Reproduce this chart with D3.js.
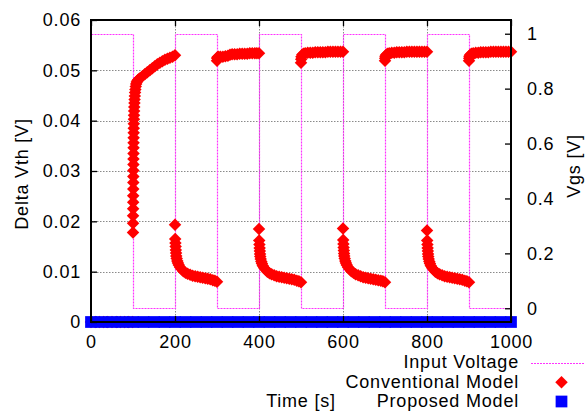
<!DOCTYPE html>
<html><head><meta charset="utf-8">
<script src="https://cdn.jsdelivr.net/npm/d3@7"></script>
<style>html,body{margin:0;padding:0;background:#fff;}svg{display:block;}</style>
</head><body>
<script>
// ---------- data ----------
const timeTicks = [0, 200, 400, 600, 800, 1000];
const timeTickLabels = ["0", "200", "400", "600", "800", "1000"];
const vthTicks = [0, 0.01, 0.02, 0.03, 0.04, 0.05, 0.06];
const vthTickLabels = ["0", "0.01", "0.02", "0.03", "0.04", "0.05", "0.06"];
const vgsTicks = [0, 0.2, 0.4, 0.6, 0.8, 1];
const vgsTickLabels = ["0", "0.2", "0.4", "0.6", "0.8", "1"];
const seriesNames = ["Input Voltage", "Conventional Model", "Proposed Model"];

// Input voltage (Vgs) square wave [time, Vgs]
const inputVoltage = [[0,1],[100,1],[100,0],[200,0],[200,1],[300,1],[300,0],[400,0],[400,1],[500,1],
  [500,0],[600,0],[600,1],[700,1],[700,0],[800,0],[800,1],[900,1],[900,0],[1000,0]];

// Conventional model [time, delta Vth]
const convIdle = [[0,0],[10,0],[20,0],[30,0],[40,0],[50,0],[60,0],[70,0],[80,0],[90,0],[99,0]];
const convStress1 = [[100,0.0178],[100.1,0.0196],[100.2,0.0211],[100.3,0.0225],[100.4,0.0238],[100.5,0.0251],
  [100.6,0.0264],[100.7,0.0277],[100.8,0.0289],[100.9,0.0301],[101,0.0313],[101.1,0.0324],[101.2,0.0335],
  [101.3,0.0346],[101.4,0.0356],[101.5,0.0366],[101.6,0.0376],[101.8,0.0385],[102,0.0394],[102.2,0.0403],
  [102.4,0.0411],[102.7,0.0419],[103,0.0427],[103.4,0.0435],[103.8,0.0442],[104.3,0.0449],[104.9,0.0456],
  [105.6,0.0462],[106.5,0.0468],[107.6,0.0473],[109,0.0477],[111,0.0480],[113,0.0482],[116,0.0484],
  [122,0.0488],[128,0.0492],[134,0.0496],[140,0.0500],[146,0.0504],[152,0.0508],[158,0.0512],[164,0.0515],
  [170,0.0518],[176,0.0521],[182,0.0523],[188,0.0525],[194,0.0527],[200,0.0530]];
const convRecov1 = [[200,0.0193],[200.5,0.0165],[201,0.0157],[201.5,0.0150],[202,0.0143],[202.5,0.0137],
  [203,0.0131],[204,0.0126],[205.5,0.0121],[207,0.0117],[209,0.0113],[212,0.0109],[216,0.0105],[220,0.0101],
  [225,0.0098],[230,0.0096],[236,0.0094],[242,0.0092],[248,0.0091],[254,0.0090],[260,0.0089],[266,0.0088],
  [272,0.0087],[278,0.0086],[284,0.0085],[290,0.0083],[295,0.0082],[300,0.0080]];
const convStress2 = [[300,0.0519],[300.5,0.0524],[301,0.0526],[303,0.0527],[308,0.0527],[314,0.0527],
  [320,0.0528],[326,0.0529],[331,0.0531],[336,0.0532],[342,0.0532],[348,0.0532],[354,0.0533],[360,0.0533],
  [366,0.0533],[372,0.0533],[378,0.0534],[384,0.0534],[390,0.0534],[395,0.0534],[400,0.0534]];
const convRecov2 = [[400,0.0185],[400.5,0.0162],[401,0.0154],[401.5,0.0147],[402,0.0141],[402.5,0.0135],
  [403,0.0130],[404,0.0125],[405.5,0.0120],[407,0.0116],[409,0.0112],[412,0.0108],[416,0.0104],[420,0.0100],
  [425,0.0097],[430,0.0095],[436,0.0093],[442,0.0091],[448,0.0090],[454,0.0089],[460,0.0088],[466,0.0087],
  [472,0.0086],[478,0.0085],[484,0.0084],[490,0.0082],[495,0.0081],[500,0.0079]];
const convStress3 = [[500,0.0515],[500.5,0.0522],[501,0.0527],[503,0.0531],[506,0.0533],[510,0.0534],
  [516,0.0535],[522,0.0535],[528,0.0535],[534,0.0536],[540,0.0536],[546,0.0536],[552,0.0536],[558,0.0536],
  [564,0.0537],[570,0.0537],[576,0.0537],[582,0.0537],[588,0.0537],[594,0.0537],[600,0.0537]];
const convRecov3 = [[600,0.0186],[600.5,0.0163],[601,0.0155],[601.5,0.0148],[602,0.0142],[602.5,0.0136],
  [603,0.0131],[604,0.0126],[605.5,0.0121],[607,0.0117],[609,0.0113],[612,0.0109],[616,0.0105],[620,0.0101],
  [625,0.0098],[630,0.0095],[636,0.0093],[642,0.0091],[648,0.0089],[654,0.0088],[660,0.0087],[666,0.0086],
  [672,0.0085],[678,0.0084],[684,0.0083],[690,0.0082],[695,0.0081],[700,0.0079]];
const convStress4 = [[700,0.0519],[700.5,0.0524],[701,0.0528],[703,0.0531],[706,0.0533],[710,0.0534],
  [716,0.0535],[722,0.0535],[728,0.0536],[734,0.0536],[740,0.0536],[746,0.0536],[752,0.0537],[758,0.0537],
  [764,0.0537],[770,0.0537],[776,0.0537],[782,0.0537],[788,0.0537],[794,0.0537],[800,0.0537]];
const convRecov4 = [[800,0.0182],[800.5,0.0162],[801,0.0154],[801.5,0.0147],[802,0.0141],[802.5,0.0135],
  [803,0.0130],[804,0.0125],[805.5,0.0120],[807,0.0116],[809,0.0112],[812,0.0108],[816,0.0104],[820,0.0100],
  [825,0.0097],[830,0.0095],[836,0.0093],[842,0.0091],[848,0.0090],[854,0.0089],[860,0.0088],[866,0.0087],
  [872,0.0086],[878,0.0085],[884,0.0084],[890,0.0082],[895,0.0081],[900,0.0079]];
const convStress5 = [[900,0.0519],[900.5,0.0524],[901,0.0528],[903,0.0531],[906,0.0533],[910,0.0534],
  [916,0.0535],[922,0.0535],[928,0.0536],[934,0.0536],[940,0.0536],[946,0.0536],[952,0.0537],[958,0.0537],
  [964,0.0537],[970,0.0537],[976,0.0537],[982,0.0537],[988,0.0537],[994,0.0537],[1000,0.0537]];

// Proposed model [time, delta Vth]
const proposed = [[0,0],[25,0],[50,0],[75,0],[100,0],[125,0],[150,0],[175,0],[200,0],[225,0],[250,0],
  [275,0],[300,0],[325,0],[350,0],[375,0],[400,0],[425,0],[450,0],[475,0],[500,0],[525,0],[550,0],
  [575,0],[600,0],[625,0],[650,0],[675,0],[700,0],[725,0],[750,0],[775,0],[800,0],[825,0],[850,0],
  [875,0],[900,0],[925,0],[950,0],[975,0],[1000,0]];

// ---------- layout ----------
const W = 585, H = 413;
const L = 91, R = 511, T = 20, B = 322;
const FONT = "'Liberation Sans', Arial, Helvetica, sans-serif";
const FS = "18px";
const LS = "0.8px";
const PINK = "#ff33ff";

const svg = d3.select("body").append("svg").attr("width", W).attr("height", H)
  .style("font-family", FONT);

const x = d3.scaleLinear().domain([0, 1000]).range([L, R]);
const y = d3.scaleLinear().domain([0, 0.06]).range([B, T]);
const y2 = d3.scaleLinear().domain([-0.05, 1.05]).range([B, T]);
const crisp = v => Math.round(v) + 0.5;

// grid
const grid = svg.append("g").attr("stroke", "#8a8a8a").attr("stroke-width", 1)
  .attr("stroke-dasharray", "1.5,1.5").attr("fill", "none");
grid.selectAll("line.gx").data(timeTicks.slice(1, -1)).join("line")
  .attr("x1", d => crisp(x(d))).attr("x2", d => crisp(x(d)))
  .attr("y1", T).attr("y2", B);
grid.selectAll("line.gy").data(vthTicks.slice(1, -1)).join("line")
  .attr("x1", L).attr("x2", R)
  .attr("y1", d => crisp(y(d))).attr("y2", d => crisp(y(d)));

// input voltage
const line2 = d3.line().x(d => crisp(x(d[0]))).y(d => crisp(y2(d[1])));
svg.append("path").datum(inputVoltage).attr("d", line2)
  .attr("fill", "none").attr("stroke", PINK).attr("stroke-width", 1.2)
  .attr("stroke-dasharray", "2,1");

// conventional model
const conventional = [].concat(convIdle, convStress1, convRecov1, convStress2, convRecov2,
  convStress3, convRecov3, convStress4, convRecov4, convStress5);
const diamond = d3.symbol().type(d3.symbolSquare).size(78)();
svg.append("g").selectAll("path").data(conventional).join("path")
  .attr("d", diamond)
  .attr("transform", d => `translate(${x(d[0])},${y(d[1])}) rotate(45)`)
  .attr("fill", "#ff0000");

// proposed model
const square = d3.symbol().type(d3.symbolSquare).size(138)();
svg.append("g").selectAll("path").data(proposed).join("path")
  .attr("d", square)
  .attr("transform", d => `translate(${x(d[0])},${y(d[1])})`)
  .attr("fill", "#0000ff");

// axes
function styleAxis(g) {
  g.select(".domain").remove();
  g.selectAll(".tick line").attr("stroke", "#000").attr("stroke-width", 1.3);
  g.selectAll("text").attr("font-family", FONT).attr("font-size", FS)
    .attr("fill", "#000").style("letter-spacing", LS);
  g.attr("font-family", null).attr("font-size", null);
}
svg.append("g").attr("transform", `translate(0,${B})`)
  .call(d3.axisBottom(x).tickValues(timeTicks).tickSize(-6).tickPadding(13)
    .tickFormat((d, i) => timeTickLabels[i]))
  .call(styleAxis);
svg.append("g").attr("transform", `translate(0,${T})`)
  .call(d3.axisTop(x).tickValues(timeTicks).tickSize(-6).tickFormat(""))
  .call(styleAxis);
svg.append("g").attr("transform", `translate(${L},0)`)
  .call(d3.axisLeft(y).tickValues(vthTicks).tickSize(-6).tickPadding(10)
    .tickFormat((d, i) => vthTickLabels[i]))
  .call(styleAxis);
svg.append("g").attr("transform", `translate(${R},0)`)
  .call(d3.axisRight(y2).tickValues(vgsTicks).tickSize(-6).tickPadding(16)
    .tickFormat((d, i) => vgsTickLabels[i]))
  .call(styleAxis);

// border
svg.append("rect").attr("x", L).attr("y", T).attr("width", R - L).attr("height", B - T)
  .attr("fill", "none").attr("stroke", "#000").attr("stroke-width", 2);

// axis titles
const txt = (s) => svg.append("text").text(s).attr("font-size", FS).attr("fill", "#000")
  .style("letter-spacing", LS);
txt("Time [s]").attr("x", (L + R) / 2).attr("y", 407).attr("text-anchor", "middle");
txt("Delta Vth [V]").attr("text-anchor", "middle")
  .attr("transform", "translate(28,174) rotate(-90)");
txt("Vgs [V]").attr("text-anchor", "middle")
  .attr("transform", "translate(580,166) rotate(-90)");

// legend
const legY = [368.3, 387.7, 407.3];
seriesNames.forEach((n, i) => {
  txt(n).attr("x", 519).attr("y", legY[i]).attr("text-anchor", "end");
});
svg.append("line").attr("x1", 531).attr("x2", 585).attr("y1", 363.5).attr("y2", 363.5)
  .attr("stroke", PINK).attr("stroke-width", 1.2).attr("stroke-dasharray", "2,1");
svg.append("path").attr("d", diamond).attr("transform", "translate(561.5,382.3) rotate(45)")
  .attr("fill", "#ff0000");
svg.append("path").attr("d", square).attr("transform", "translate(561.5,401.5)")
  .attr("fill", "#0000ff");
</script>
</body></html>
